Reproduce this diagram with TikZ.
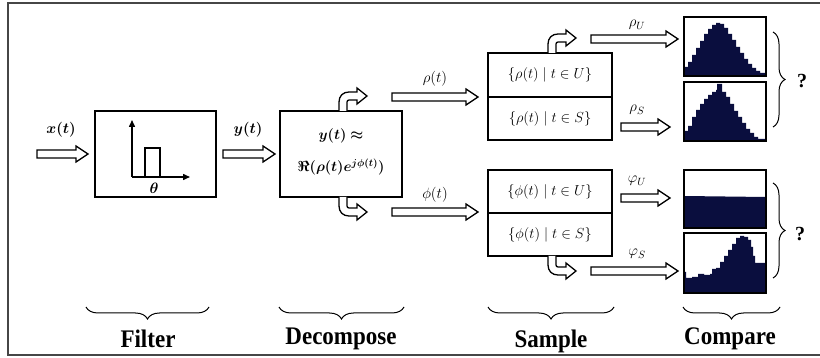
\RequirePackage{fix-cm}
\documentclass[tikz,border=0pt]{standalone}
\usepackage{amsmath,bm}
\usepackage[no-math]{fontspec}
\setmainfont{Liberation Serif}
\usetikzlibrary{calc,decorations.pathreplacing,arrows.meta}
\definecolor{histblue}{RGB}{10,14,62}
\definecolor{framegray}{RGB}{70,70,70}
\newcommand\hollowarr[2]{\draw[hollow] let \p1=(#1), \p2=(#2) in
  (\x1,\y1+4pt) -- (\x2-12pt,\y1+4pt) -- (\x2-12pt,\y1+8pt) -- (\x2,\y1)
  -- (\x2-12pt,\y1-8pt) -- (\x2-12pt,\y1-4pt) -- (\x1,\y1-4pt) -- cycle;}
\newcommand\bentarr[2]{\begin{scope}[shift={(#1)}, yscale=#2]
  \draw[hollow] (-4,0) -- (-4,9) .. controls (-4,15) and (0,19) .. (6,19) -- (14,19)
    -- (14,23) -- (24,15) -- (14,7) -- (14,11) -- (6,11)
    .. controls (5,11) and (4,10) .. (4,9) -- (4,0);
  \end{scope}}
\begin{document}
\begin{tikzpicture}[x=1pt,y=-1pt,
  box/.style={draw, line width=2pt, fill=white, inner sep=0pt, align=center},
  hollow/.style={draw, line width=1.3pt, fill=white, line join=miter},
  histbox/.style={draw, line width=1.8pt, minimum width=82pt, inner sep=0pt},
  bracedeco/.style={decorate, decoration={brace, amplitude=12pt}, line width=1pt},
  steplabel/.style={font=\fontsize{23}{26}\selectfont\bfseries, yscale=1.1, transform shape},
  mlabel/.style={font=\fontsize{15}{18}\selectfont},
  boxtext/.style={font=\fontsize{14.5}{18}\selectfont}]
\useasboundingbox (0,0) rectangle (820,358);
\draw[framegray, line width=1.2pt] (824,3) -- (8,3) -- (8,355) -- (824,355);

% Filter box
\node[box, minimum width=121pt, minimum height=86pt] (filter) at (155.5,154) {};
\coordinate (ax0) at (132,177);
\coordinate (axy) at (132,120);
\coordinate (axx) at (190,177);
\draw[line width=1.5pt, -{Triangle[length=7pt,width=6pt]}] (ax0) -- (axy);
\draw[line width=1.5pt, -{Triangle[length=7pt,width=6pt]}] (ax0) -- (axx);
\draw[line width=1.2pt] (145,177) -- (145,148) -- (160,148) -- (160,177);
\node[mlabel] (theta) at (154,188) {$\bm{\theta}$};

% Decompose box
\node[box, minimum width=122pt, minimum height=86pt] (decomp) at (341,154) {};
\node[boxtext] (dec1) at (341,136) {$\bm{y(t)\approx}$};
\node[boxtext] (dec2) at (341,167) {$\bm{\Re(\rho(t)e^{j\phi(t)})}$};

% Sample boxes
\node[box, minimum width=124pt, minimum height=44pt, boxtext] (sU) at (550,75) {$\{\rho(t)\mid t\in U\}$};
\node[box, minimum width=124pt, minimum height=43pt, boxtext] (sS) at (550,118.5) {$\{\rho(t)\mid t\in S\}$};
\node[box, minimum width=124pt, minimum height=43pt, boxtext] (pU) at (550,191.5) {$\{\phi(t)\mid t\in U\}$};
\node[box, minimum width=124pt, minimum height=43pt, boxtext] (pS) at (550,234.5) {$\{\phi(t)\mid t\in S\}$};

% bent arrows
\coordinate (dtop) at (343,111);
\coordinate (dbot) at (343,197);
\coordinate (stop) at (552,53);
\coordinate (sbot) at (552,256);
\bentarr{dtop}{-1}
\bentarr{dbot}{1}
\bentarr{stop}{-1}
\bentarr{sbot}{1}

% straight hollow arrows
\coordinate (in0) at (37,154);   \coordinate (in1) at (88,154);
\coordinate (y0) at (223,154);   \coordinate (y1) at (275,154);
\coordinate (r0) at (392,97);    \coordinate (r1) at (478,97);
\coordinate (f0) at (392,212);   \coordinate (f1) at (478,212);
\coordinate (ru0) at (591,39);   \coordinate (ru1) at (678,39);
\coordinate (rs0) at (621,127);  \coordinate (rs1) at (670,127);
\coordinate (pu0) at (621,198);  \coordinate (pu1) at (670,198);
\coordinate (ps0) at (591,271);  \coordinate (ps1) at (678,271);
\hollowarr{in0}{in1}
\hollowarr{y0}{y1}
\hollowarr{r0}{r1}
\hollowarr{f0}{f1}
\hollowarr{ru0}{ru1}
\hollowarr{rs0}{rs1}
\hollowarr{pu0}{pu1}
\hollowarr{ps0}{ps1}

% arrow labels
\node[mlabel] (lx) at (61,130) {$\bm{x(t)}$};
\node[mlabel] (ly) at (248,130) {$\bm{y(t)}$};
\node[mlabel] (lr) at (435,79) {$\rho(t)$};
\node[mlabel] (lf) at (435,195) {$\phi(t)$};
\node[mlabel] (lru) at (637,25) {$\rho_U$};
\node[mlabel] (lrs) at (637,110) {$\rho_S$};
\node[mlabel] (lpu) at (637,181) {$\varphi_U$};
\node[mlabel] (lps) at (637,254) {$\varphi_S$};

% histograms
\fill[histblue] (684,76) -- (684,67) -| (688,62) -| (692,55) -| (696,48) -| (700,41) -| (704,34)
  -| (708,29) -| (712,25) -| (716,23) -| (720,24) -| (724,28) -| (728,34) -| (732,40)
  -| (736,47) -| (740,53) -| (744,59) -| (748,64) -| (752,68) -| (756,71) -| (760,73)
  -| (766,74) -- (766,76) -- cycle;
\fill[histblue] (684,141) -- (684,131) -| (688,126) -| (692,117) -| (696,110) -| (700,104)
  -| (704,99) -| (708,95) -| (712,92) -| (716,90) -| (717,84) -| (719.5,84) -| (722,92)
  -| (726,97) -| (730,104) -| (734,111) -| (738,117) -| (742,123) -| (746,129) -| (750,133)
  -| (754,137) -| (758,139) -| (766,140) -- (766,141) -- cycle;
\fill[histblue] (684,228) -- (684,196) -- (725,196.5) -- (766,197) -- (766,228) -- cycle;
\fill[histblue] (684,293) -- (684,272) -| (686,278) -| (692,277) -| (698,274) -| (704,275)
  -| (710,274) -| (712,269) -| (716,268) -| (720,262) -| (724,256) -| (728,250) -| (732,244)
  -| (736,238) -| (740,236) -| (744,237) -| (748,240) -| (751,247) -| (753,256) -| (755,263)
  -| (766,263) -- (766,293) -- cycle;
\node[histbox, minimum height=59pt] (h1) at (725,46.5) {};
\node[histbox, minimum height=59pt] (h2) at (725,111.5) {};
\node[histbox, minimum height=58pt] (h3) at (725,199) {};
\node[histbox, minimum height=60pt] (h4) at (725,263) {};

% right braces and question marks
\draw[bracedeco] (773,32) -- (773,127);
\draw[bracedeco] (773,183) -- (773,278);
\node[font=\fontsize{20}{22}\selectfont\bfseries] (q1) at (802,81) {?};
\node[font=\fontsize{20}{22}\selectfont\bfseries] (q2) at (800,234) {?};

% bottom braces and step labels
\draw[bracedeco] (209,307) -- (86,307);
\draw[bracedeco] (404,307) -- (279,307);
\draw[bracedeco] (614,307) -- (488,307);
\draw[bracedeco] (780,307) -- (683,307);
\node[steplabel] (tf) at (148,339) {Filter};
\node[steplabel] (td) at (341,339) {Decompose};
\node[steplabel] (ts) at (551,341) {Sample};
\node[steplabel] (tc) at (730,339) {Compare};
\end{tikzpicture}
\end{document}
